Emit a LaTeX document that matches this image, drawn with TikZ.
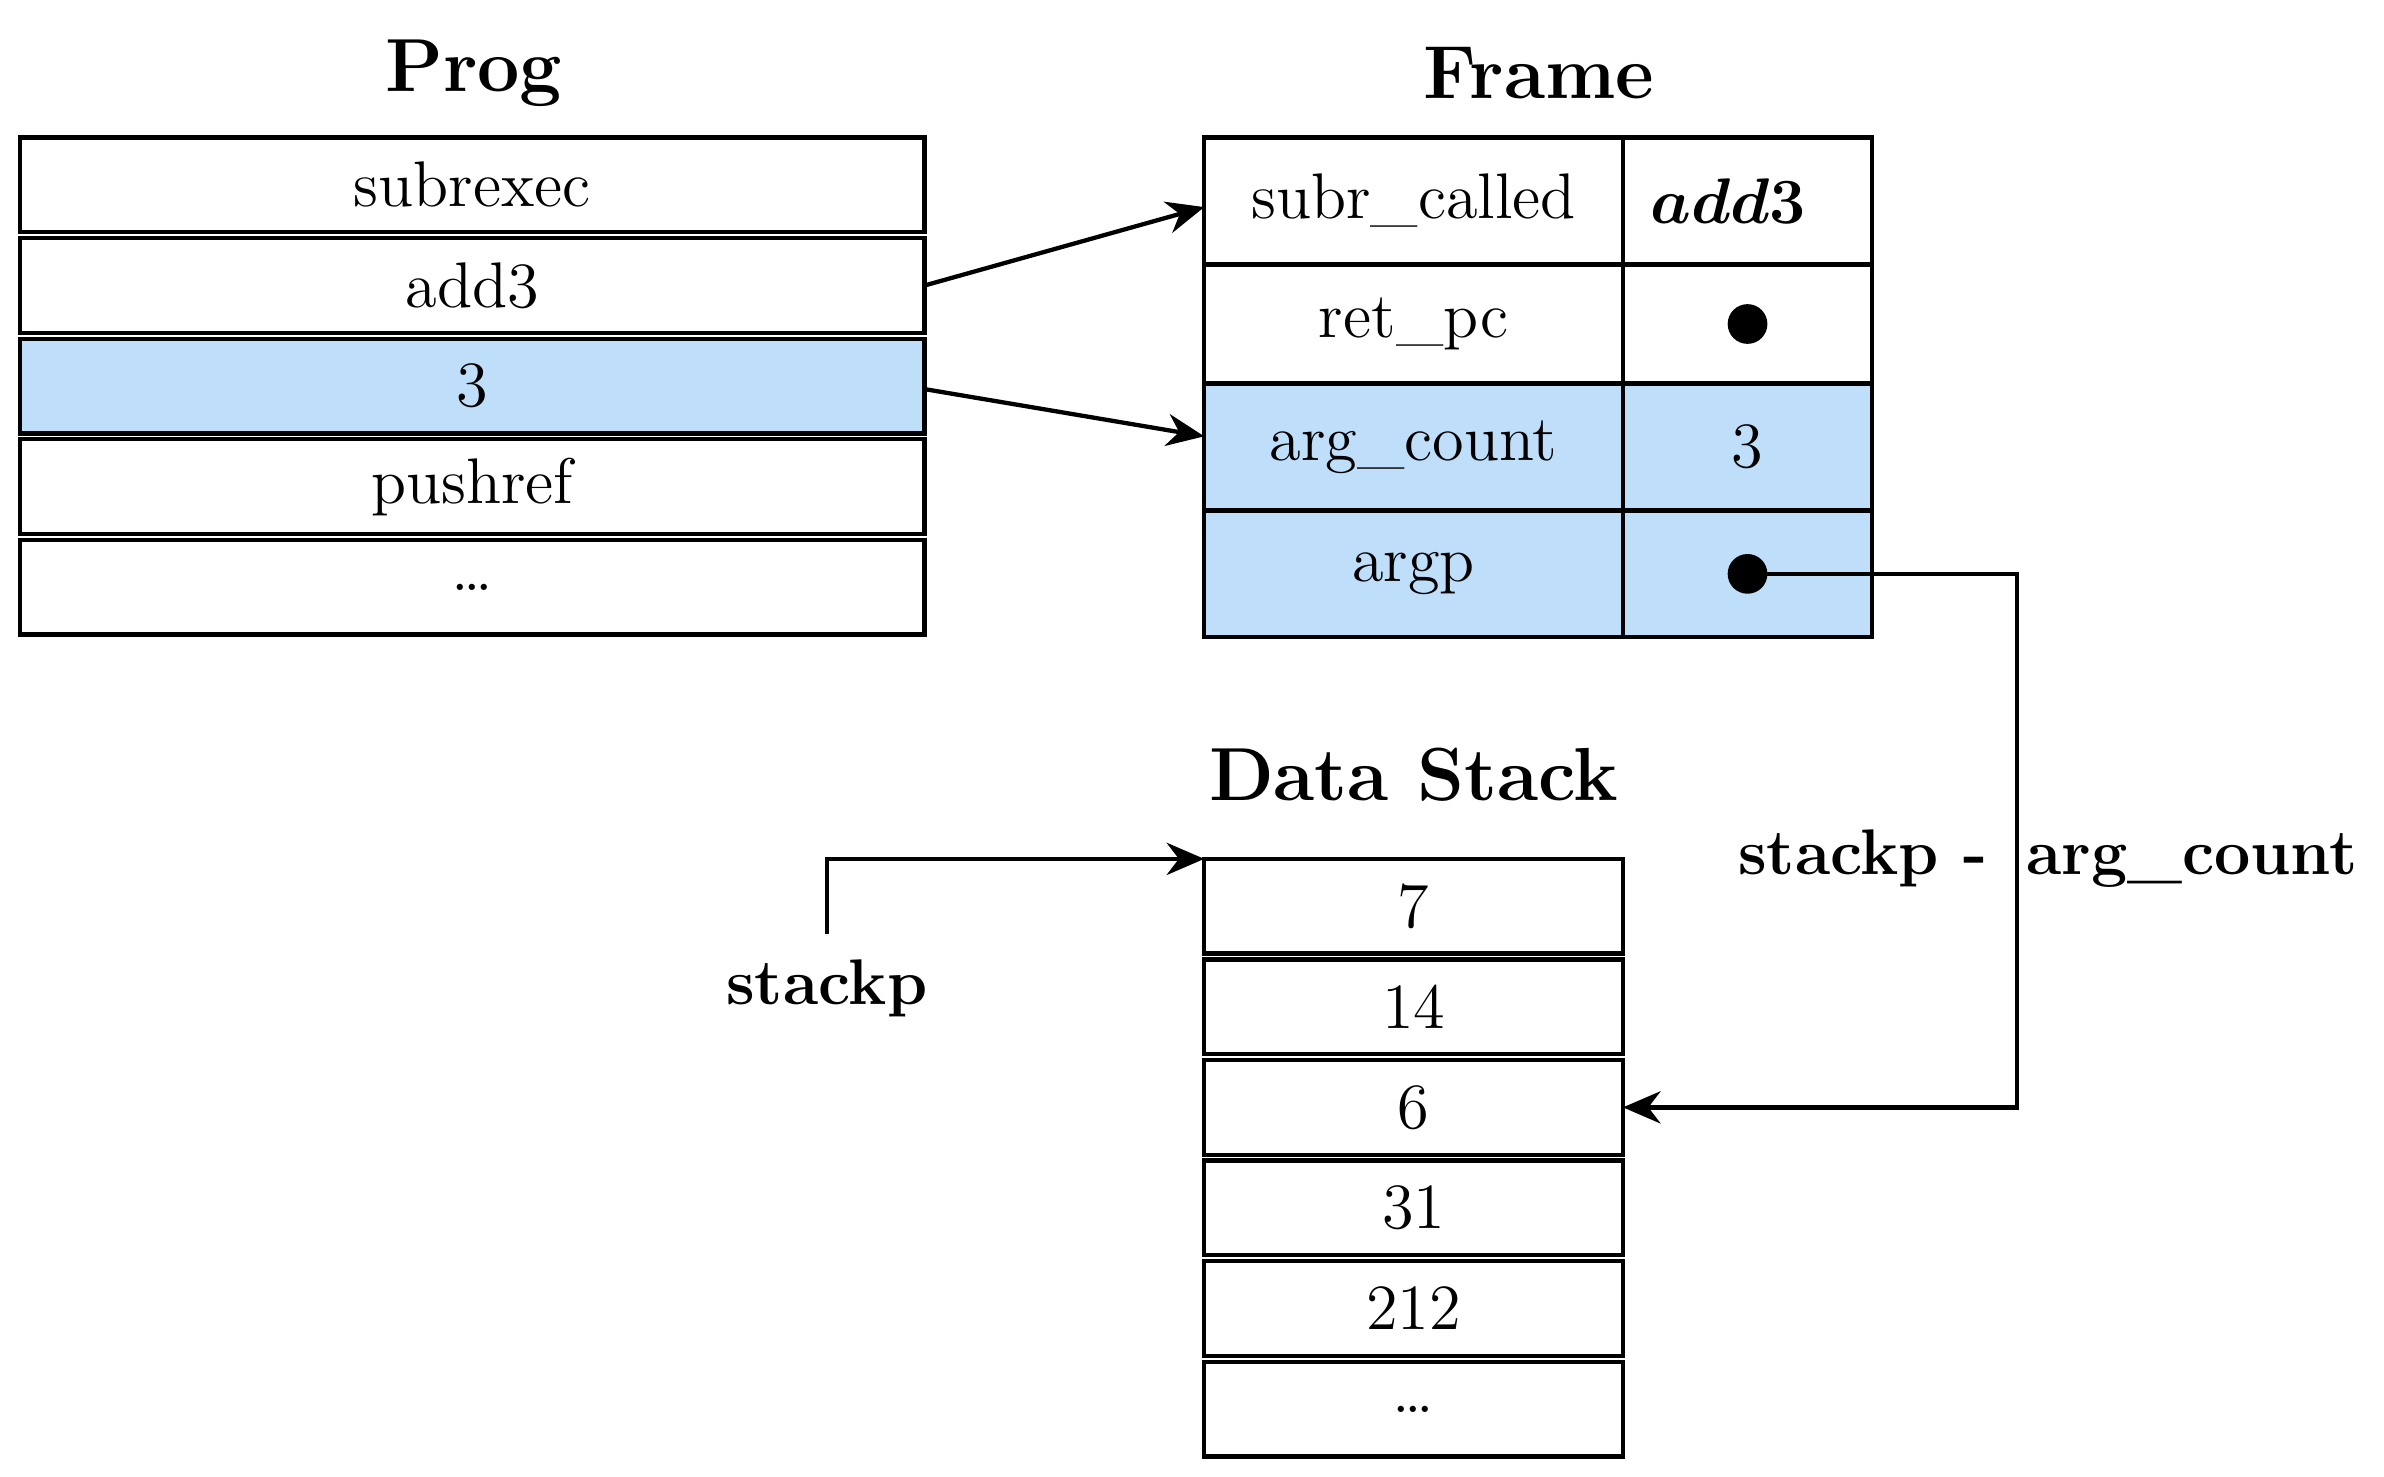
\documentclass[tikz,border=0pt]{standalone}
\usepackage{amsfonts, amsmath, amssymb}
\usetikzlibrary{arrows.meta,positioning,calc}
\definecolor{cellblue}{RGB}{190,222,250}
\tikzset{
  cell/.style={draw, thick, minimum height=0.62cm, inner sep=0pt, outer sep=0pt, font=\fontsize{12}{14}\selectfont},
  title/.style={font=\fontsize{14}{16}\selectfont\bfseries},
  ptr/.style={-{Stealth[length=7pt,width=6pt]}, thick},
  dot/.style={circle, fill=black, inner sep=0pt, minimum size=0.26cm}
}
\begin{document}
\begin{tikzpicture}[x=1cm,y=1cm]
\useasboundingbox (0,0) rectangle (15.6,-9.66);
% Prog
\node[title] (progT) at (3.1,-0.48) {Prog};
\foreach \t [count=\i] in {subrexec,add3,3,pushref,\ldots}
  \node[cell, minimum width=5.92cm, anchor=north west] (p\i) at (0.13,{-0.90-0.658*(\i-1)}) {\t};
\node[cell, minimum width=5.92cm, fill=cellblue] at (p3) {3};
% Frame
\node[title] (frameT) at (10.07,-0.48) {Frame};
\node[cell, minimum width=2.74cm, minimum height=0.83cm, anchor=north west] (f1) at (7.88,-0.90) {subr\_called};
\node[cell, minimum width=1.63cm, minimum height=0.83cm, right=0pt of f1] (g1) {\hspace*{-0.6em}$\boldsymbol{add3}$};
\node[cell, minimum width=2.74cm, minimum height=0.78cm, below=0pt of f1] (f2) {ret\_pc};
\node[cell, minimum width=1.63cm, minimum height=0.78cm, right=0pt of f2] (g2) {};
\node[dot] at (g2) {};
\node[cell, fill=cellblue, minimum width=2.74cm, minimum height=0.83cm, below=0pt of f2] (f3) {arg\_count};
\node[cell, fill=cellblue, minimum width=1.63cm, minimum height=0.83cm, right=0pt of f3] (g3) {3};
\node[cell, fill=cellblue, minimum width=2.74cm, minimum height=0.83cm, below=0pt of f3] (f4) {argp};
\node[cell, fill=cellblue, minimum width=1.63cm, minimum height=0.83cm, right=0pt of f4] (g4) {};
\node[dot] (argp) at (g4) {};
% Data Stack
\node[title] (stackT) at (9.25,-5.07) {Data Stack};
\foreach \t [count=\i] in {7,14,6,31,212,\ldots}
  \node[cell, minimum width=2.74cm, anchor=north west] (s\i) at (7.88,{-5.62-0.658*(\i-1)}) {\t};
% pointers
\draw[ptr] (p2.east) -- ($(f1.west)+(0,-0.04)$);
\draw[ptr] ($(p3.east)+(0,-0.02)$) -- ($(f3.west)+(0,0.07)$);
\node[font=\fontsize{12}{14}\selectfont\bfseries] (sp) at (5.41,-6.47) {stackp};
\draw[ptr] ($(sp.north)+(0,0.05)$) |- (s1.north west);
\coordinate (bend) at (13.2,-3.8);
\draw[ptr] (argp.center) -| (bend) |- (s3.east);
\node[font=\fontsize{12}{14}\selectfont\bfseries, inner sep=1pt] (lbl) at (13.4,-5.62) {stackp -\hspace{0.6em}arg\_count};
\end{tikzpicture}
\end{document}
